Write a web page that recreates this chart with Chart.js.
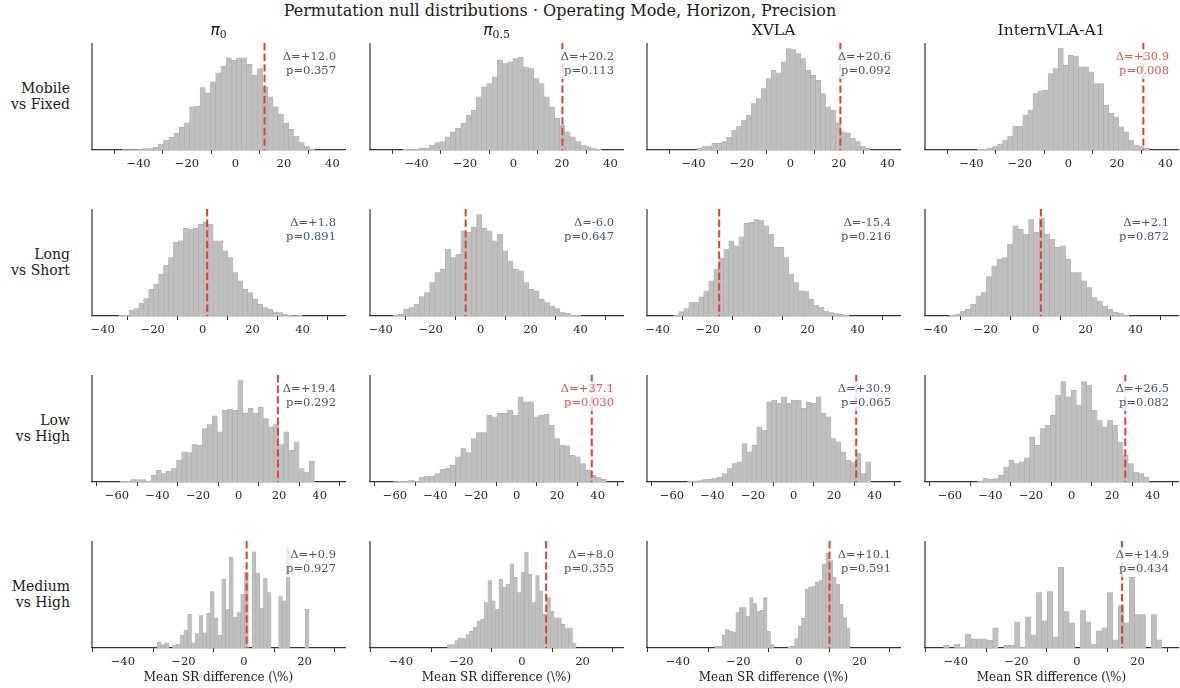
<!DOCTYPE html>
<html>
<head>
<meta charset="utf-8">
<script src="https://cdn.jsdelivr.net/npm/chart.js@4.4.1/dist/chart.umd.min.js"></script>
<style>
  body { margin: 0; background: #fff; font-family: 'DejaVu Serif', serif; color: #1a1a1a; }
  #fig { position: relative; width: 1180px; height: 688px; overflow: hidden; }
  canvas { position: absolute; }
  .txt { position: absolute; white-space: nowrap; line-height: 1; }
  .c { transform: translateX(-50%); }
  .rowlab { text-align: right; font-size: 14px; line-height: 16px; }
  .pi { font-family: 'DejaVu Sans', sans-serif; font-style: italic; }
  .sub { font-size: 0.7em; position: relative; top: 0.28em; }
</style>
</head>
<body>
<div id="fig"></div>
<script>
// columns / rows
var models = ['π0', 'π0.5', 'XVLA', 'InternVLA-A1'];
var comparisons = [['Mobile', 'vs Fixed'], ['Long', 'vs Short'], ['Low', 'vs High'], ['Medium', 'vs High']];

// observed differences and permutation p-values (row = comparison, col = model)
var observedDelta = [
  [12.0, 20.2, 20.6, 30.9],
  [1.8, -6.0, -15.4, 2.1],
  [19.4, 37.1, 30.9, 26.5],
  [0.9, 8.0, 10.1, 14.9]
];
var pValues = [
  [0.357, 0.113, 0.092, 0.008],
  [0.891, 0.647, 0.216, 0.872],
  [0.292, 0.030, 0.065, 0.082],
  [0.927, 0.355, 0.591, 0.434]
];

// x tick labels and shared x range per row
var xTicks = [[-40, -20, 0, 20, 40], [-40, -20, 0, 20, 40], [-60, -40, -20, 0, 20, 40], [-40, -20, 0, 20]];
var xRange = [[-59.2, 45.2], [-44.3, 57.0], [-72.3, 52.5], [-50.2, 33.4]];
var yTop = [322, 320, 320, 318];

// histogram edges [first, last] per panel
var mobileFixedEdges = [[-53.3, 32.7], [-45.4, 36.3], [-38.6, 32.9], [-37.6, 33.3]];
var longShortEdges = [[-33.5, 39.9], [-35.0, 40.1], [-33.6, 36.6], [-34.5, 37.3]];
var lowHighEdges = [[-58.3, 37.4], [-60.9, 44.3], [-52.3, 38.0], [-46.3, 38.2]];
var mediumHighEdges = [[-28.6, 21.5], [-24.6, 17.9], [-27.7, 16.9], [-44.05, 28.1]];

// permutation counts per bin
var mobileFixedPi0 = [0,0,0,1,1,1,3,4,4,8,18,30,38,50,68,82,130,132,188,172,205,232,252,277,270,277,277,258,225,245,190,160,130,107,80,62,42,22,12,3];
var mobileFixedPi05 = [2,3,3,5,5,15,22,25,40,55,65,80,105,120,160,190,200,220,270,260,265,275,280,250,245,215,200,160,130,95,75,55,40,25,15,10,6,2];
var mobileFixedXvla = [5,10,12,20,20,25,38,60,72,90,105,140,155,185,215,240,232,265,305,302,290,275,240,225,210,170,130,120,82,55,52,35,25,12,5];
var mobileFixedIntern = [2,3,6,10,18,30,42,72,72,105,120,170,178,180,230,245,307,255,285,283,250,250,235,200,200,135,110,100,70,55,30,15,10,5];

var longShortPi0 = [2,2,18,22,38,52,80,95,125,152,175,220,225,262,260,262,275,280,275,225,225,195,175,130,105,80,70,50,35,25,20,12,10,5,2,1,3];
var longShortPi05 = [2,5,20,25,35,58,70,100,130,140,200,175,185,255,250,265,303,262,255,225,245,195,165,140,135,100,80,75,50,40,30,22,12,8,3,3];
var longShortXvla = [3,13,22,40,42,57,75,105,140,173,200,225,210,237,277,280,288,285,270,245,207,205,175,125,100,75,73,50,33,27,15,10,7,5,3];
var longShortIntern = [3,5,15,20,35,60,70,118,150,170,175,215,270,260,245,288,250,293,245,230,205,210,170,130,130,105,85,55,45,30,20,12,8,3];

var lowHighPi0 = [2,2,7,7,7,3,20,35,25,32,40,65,90,88,112,110,160,172,198,150,215,218,215,303,205,220,205,223,190,165,172,112,150,95,120,40,30,62];
var lowHighPi05 = [1,2,3,5,2,15,18,18,25,38,42,50,75,100,88,130,148,148,200,195,205,205,215,200,255,240,240,195,200,203,170,130,110,108,80,75,55,35,20,15,8];
var lowHighXvla = [3,2,4,7,8,10,15,25,40,55,60,115,90,110,165,155,240,245,235,255,235,245,245,220,238,235,255,205,195,130,120,90,65,60,85,25,60];
var lowHighIntern = [3,12,8,10,20,45,65,55,60,72,135,110,160,170,200,260,300,255,275,230,300,290,215,185,165,185,170,120,80,55,30,25,15];

var mediumHighPi0 = [18,10,15,0,7,12,38,53,100,15,43,96,45,103,168,88,38,205,115,270,91,105,160,225,0,286,223,118,208,165,0,0,153,140,300,0,0,0,0,115];
var mediumHighPi05 = [10,10,22,30,28,40,50,62,80,85,135,200,140,115,205,180,190,250,210,165,225,285,220,135,215,170,100,150,110,90,90,70,58,60,15];
var mediumHighXvla = [5,5,38,55,50,48,105,120,120,95,150,132,110,112,150,50,10,0,0,0,0,5,5,28,65,88,175,180,185,195,200,250,282,260,210,190,130,90,60];
var mediumHighIntern = [8,0,11,3,41,27,27,27,23,60,0,8,8,78,3,93,39,165,81,168,33,240,108,75,0,111,78,12,51,60,165,24,126,75,210,99,99,0,99,24];

var counts = [
  [mobileFixedPi0, mobileFixedPi05, mobileFixedXvla, mobileFixedIntern],
  [longShortPi0, longShortPi05, longShortXvla, longShortIntern],
  [lowHighPi0, lowHighPi05, lowHighXvla, lowHighIntern],
  [mediumHighPi0, mediumHighPi05, mediumHighXvla, mediumHighIntern]
];
var edges = [mobileFixedEdges, longShortEdges, lowHighEdges, mediumHighEdges];

// layout
var colLeft = [92, 370, 647, 925];
var rowTop = [43, 209, 375, 541];
var AX_W = 253, AX_H = 107;
var PAD_L = 12, PAD_R = 14, PAD_T = 4, XAX_H = 26;
var FONT = "'DejaVu Serif'";

var fig = document.getElementById('fig');

function addText(html, x, y, cls, style) {
  var d = document.createElement('div');
  d.className = 'txt ' + (cls || '');
  d.innerHTML = html;
  d.style.left = x + 'px';
  d.style.top = y + 'px';
  if (style) d.style.cssText += style;
  fig.appendChild(d);
  return d;
}

function minusFmt(v) {
  return v < 0 ? '\u2212' + Math.abs(v) : String(v);
}

var nullPlugin = {
  id: 'nullMarks',
  afterDatasetsDraw: function(chart, args, opts) {
    var ctx = chart.ctx, a = chart.chartArea;
    var px = chart.scales.x.getPixelForValue(opts.delta);
    ctx.save();
    ctx.strokeStyle = '#d9413f';
    ctx.lineWidth = 2;
    ctx.setLineDash([7.4, 3.2]);
    ctx.beginPath();
    ctx.moveTo(px, a.top);
    ctx.lineTo(px, a.bottom);
    ctx.stroke();
    ctx.setLineDash([]);

    ctx.strokeStyle = '#333';
    ctx.lineWidth = 1.2;
    ctx.beginPath();
    ctx.moveTo(a.left, a.top);
    ctx.lineTo(a.left, a.bottom);
    ctx.stroke();

    var l1 = '\u0394=' + (opts.delta >= 0 ? '+' : '-') + Math.abs(opts.delta).toFixed(1);
    var l2 = 'p=' + opts.p.toFixed(3);
    ctx.font = '11.5px ' + FONT;
    var w = Math.max(ctx.measureText(l1).width, ctx.measureText(l2).width);
    var rx = a.right - 9;
    ctx.fillStyle = 'rgba(255,255,255,0.75)';
    ctx.fillRect(rx - w - 3, a.top + 6, w + 6, 30);
    ctx.fillStyle = opts.p < 0.05 ? '#e25555' : '#4a5366';
    ctx.textAlign = 'right';
    ctx.textBaseline = 'middle';
    ctx.fillText(l1, rx, a.top + 14);
    ctx.fillText(l2, rx, a.top + 28);
    ctx.restore();
  }
};

for (var r = 0; r < 4; r++) {
  for (var c = 0; c < 4; c++) {
    var vals = counts[r][c];
    var lo = edges[r][c][0], hi = edges[r][c][1];
    var bw = (hi - lo) / vals.length;
    var pts = vals.map(function(v, i) { return { x: lo + (i + 0.5) * bw, y: v }; });

    var cv = document.createElement('canvas');
    cv.width = AX_W + PAD_L + PAD_R;
    cv.height = AX_H + PAD_T + XAX_H;
    cv.style.left = (colLeft[c] - PAD_L) + 'px';
    cv.style.top = (rowTop[r] - PAD_T) + 'px';
    fig.appendChild(cv);

    (function(row) {
      new Chart(cv, {
        type: 'bar',
        data: {
          datasets: [{
            data: pts,
            backgroundColor: '#bfbfbf',
            borderColor: '#a8a8a8',
            borderWidth: 0.5,
            barPercentage: 1,
            categoryPercentage: 1
          }]
        },
        options: {
          responsive: false,
          animation: false,
          devicePixelRatio: 1,
          layout: { padding: { left: PAD_L, right: PAD_R, top: PAD_T, bottom: 0 } },
          plugins: {
            legend: { display: false },
            tooltip: { enabled: false },
            nullMarks: { delta: observedDelta[row][c], p: pValues[row][c] }
          },
          scales: {
            x: {
              type: 'linear',
              min: xRange[row][0],
              max: xRange[row][1],
              offset: false,
              z: 1,
              grid: { display: true, drawOnChartArea: false, drawTicks: true, tickLength: 4, color: '#333', lineWidth: 1 },
              border: { display: true, color: '#333', width: 1.2 },
              ticks: {
                color: '#262626',
                padding: 3,
                maxRotation: 0,
                font: { family: FONT, size: 11.5 },
                callback: function(v) { return minusFmt(v); }
              },
              afterBuildTicks: function(s) { s.ticks = xTicks[row].map(function(v) { return { value: v }; }); },
              afterFit: function(s) { s.height = XAX_H; }
            },
            y: { display: false, min: 0, max: yTop[row] }
          }
        },
        plugins: [nullPlugin]
      });
    })(r);
  }
}

// figure texts
addText('Permutation null distributions \u00b7 Operating Mode, Horizon, Precision', 560, 3, 'c', 'font-size:16px;');
var colTitles = [
  '<span class="pi">\u03c0</span><span class="sub">0</span>',
  '<span class="pi">\u03c0</span><span class="sub">0.5</span>',
  'XVLA',
  'InternVLA-A1'
];
for (var c2 = 0; c2 < 4; c2++) {
  addText(colTitles[c2], colLeft[c2] + AX_W / 2, 23, 'c', 'font-size:15.5px;');
  addText('Mean SR difference (\\%)', colLeft[c2] + AX_W / 2, 671, 'c', 'font-size:12px;');
}
for (var r2 = 0; r2 < 4; r2++) {
  addText(comparisons[r2].join('<br>'), 0, rowTop[r2] + AX_H / 2 - 17, 'rowlab', 'width:70px;');
}
</script>
</body>
</html>
